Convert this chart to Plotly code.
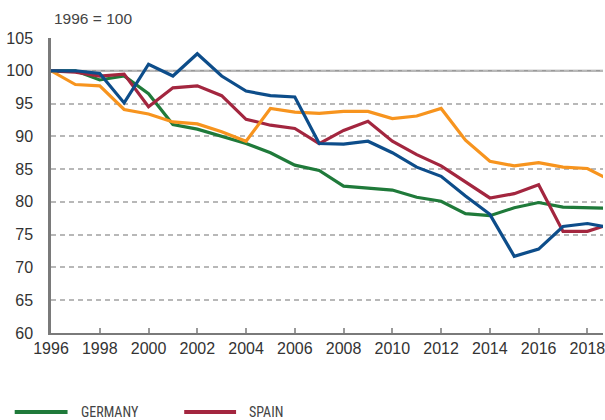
import plotly.graph_objects as go

years = list(range(1996, 2020))

germany = [100, 100, 98.6, 99.2, 96.5, 91.8, 91.1, 90.0, 88.9, 87.5, 85.6, 84.8,
           82.4, 82.1, 81.8, 80.7, 80.1, 78.2, 77.9, 79.1, 79.9, 79.2, 79.05, 79.0]
spain = [100, 99.8, 99.2, 99.5, 94.5, 97.4, 97.7, 96.2, 92.6, 91.7, 91.2, 88.9,
         90.9, 92.3, 89.25, 87.2, 85.5, 83.0, 80.6, 81.25, 82.6, 75.5, 75.5, 76.7]
italy = [100, 97.9, 97.7, 94.1, 93.4, 92.2, 91.9, 90.7, 89.25, 94.25, 93.7, 93.5,
         93.8, 93.8, 92.7, 93.1, 94.25, 89.4, 86.2, 85.5, 86.0, 85.3, 85.1, 83.2]
france = [100, 100, 99.6, 95.1, 101.0, 99.2, 102.6, 99.2, 96.9, 96.2, 96.0, 88.9,
          88.8, 89.25, 87.5, 85.3, 83.9, 80.9, 78.1, 71.7, 72.8, 76.25, 76.7, 76.0]

series_names = ["GERMANY", "SPAIN", "ITALY", "FRANCE"]
series_values = [germany, spain, italy, france]
series_colors = ["#1f7a3a", "#a3263f", "#f7941e", "#0d4d8a"]

y_ticks = list(range(60, 106, 5))
x_ticks = list(range(1996, 2019, 2))

fig = go.Figure()
for name, vals, col in zip(series_names, series_values, series_colors):
    fig.add_trace(go.Scatter(x=years, y=vals, mode="lines", name=name,
                             line=dict(color=col, width=3.2), showlegend=False))

# plot area geometry in pixels
L, R, T, B = 51.4, 605, 38.3, 332.6
W, H = R - L, B - T

def px(xp):
    return (xp - L) / W

def py(yp):
    return (B - yp) / H

# reference line at 100
fig.add_shape(type="line", xref="paper", x0=0, x1=1, yref="y", y0=100, y1=100,
              line=dict(color="#9a9a9a", width=2), layer="below")

# custom legend
leg_y = 411.5
leg_items = [("GERMANY", 15, 68, 79), ("SPAIN", 185, 237, 248)]
for name, x0, x1, xt in leg_items:
    col = series_colors[series_names.index(name)]
    fig.add_shape(type="line", xref="paper", yref="paper",
                  x0=px(x0), x1=px(x1), y0=py(leg_y), y1=py(leg_y),
                  line=dict(color=col, width=4))
    fig.add_annotation(text=name, xref="paper", yref="paper", x=px(xt), y=py(leg_y),
                       xanchor="left", yanchor="middle", showarrow=False,
                       font=dict(family="Liberation Sans Narrow, Roboto Condensed, Liberation Sans, Arial",
                                 size=14, color="#444444"))

fig.add_annotation(text="1996 = 100", xref="paper", yref="paper", x=px(52), y=py(19),
                   xanchor="left", yanchor="middle", showarrow=False,
                   font=dict(family="Liberation Sans, Arial", size=15.5, color="#444444"))

fig.update_layout(
    width=605, height=420,
    margin=dict(l=L, r=0, t=T, b=420 - B, pad=0),
    plot_bgcolor="white", paper_bgcolor="white",
    font=dict(family="Liberation Sans, Arial", size=16, color="#333333"),
    showlegend=False,
)
fig.update_xaxes(range=[1996, 2018.64], tickvals=x_ticks, ticktext=[str(t) for t in x_ticks],
                 showgrid=False, zeroline=False, showline=True, linecolor="#7a7a7a", linewidth=2,
                 ticks="inside", ticklen=5, tickcolor="#9a9a9a", tickwidth=1.5,
                 ticklabeloverflow="allow",
                 tickfont=dict(size=16, color="#333333"))
fig.update_yaxes(range=[60, 105], tickvals=y_ticks, showgrid=True, gridcolor="#b8b8b8",
                 griddash="5px,4px", gridwidth=1.5, zeroline=False,
                 showline=True, linecolor="#7a7a7a", linewidth=2.5,
                 ticks="", ticklabelstandoff=12,
                 tickfont=dict(size=16, color="#333333"))

fig.write_html("out.html", config={"displayModeBar": False},
               post_script="document.body.style.margin='0px';document.body.style.overflow='hidden';")
